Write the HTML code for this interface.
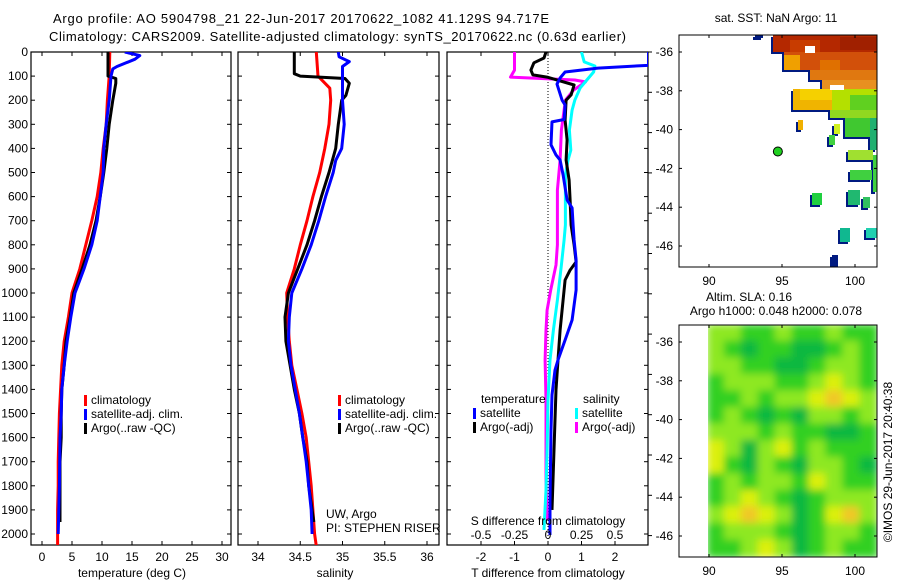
<!DOCTYPE html>
<html><head><meta charset="utf-8"><style>
html,body{margin:0;padding:0;background:#fff;}
svg{display:block;font-family:"Liberation Sans",sans-serif;}
text{font-size:12px;fill:#000;}
</style></head><body>
<svg id="fig" width="900" height="580" viewBox="0 0 900 580" xmlns="http://www.w3.org/2000/svg">
<defs><filter id="blur" x="0" y="0" width="100%" height="100%"><feGaussianBlur stdDeviation="4"/></filter>
<clipPath id="c1"><rect x="31" y="52" width="200" height="493"/></clipPath>
<clipPath id="c2"><rect x="238" y="52" width="201" height="493"/></clipPath>
<clipPath id="c3"><rect x="447" y="52" width="201" height="493"/></clipPath>
<clipPath id="cm1"><rect x="679" y="35" width="198" height="232"/></clipPath>
<clipPath id="cm2"><rect x="708" y="325" width="169" height="232"/></clipPath>
</defs>
<text x="53" y="23" style="font-size:13px" textLength="496">Argo profile: AO 5904798_21 22-Jun-2017 20170622_1082 41.129S 94.717E</text>
<text x="49" y="41" style="font-size:13px" textLength="577">Climatology: CARS2009. Satellite-adjusted climatology: synTS_20170622.nc (0.63d earlier)</text>
<g id="g1"></g>
<g id="g2"></g>
<g id="g3"></g>
<g id="m1"></g>
<g id="m2"></g>
</svg>
<script>
// ---- data ----
const depthTicks=[0,100,200,300,400,500,600,700,800,900,1000,1100,1200,1300,1400,1500,1600,1700,1800,1900,2000];
const tempTicks=[0,5,10,15,20,25,30];
const salTicks=[34,34.5,35,35.5,36];
const tdTicks=[-2,-1,0,1,2];
const sdTicks=[-0.5,-0.25,0,0.25,0.5];
const sdTickLabels=["-0.5","-0.25","0","0.25","0.5"];

const tClimDepth=[0,100,200,300,400,500,600,700,800,900,1000,1100,1200,1300,1400,1500,1600,1700,1800,1900,2000,2050];
const tClim=[11.3,11.2,10.9,10.7,10.2,9.8,9.2,8.3,7.3,6.3,5.0,4.4,3.7,3.3,3.1,2.9,2.8,2.7,2.7,2.6,2.6,2.6];
const tSatDepth=[0,15,30,60,70,100,200,300,400,500,600,700,800,900,1000,1100,1200,1300,1400,1500,1600,1800,2000];
const tSat=[13.8,16.3,15.5,12.5,11.8,11.5,11.2,10.7,10.3,10.2,9.7,9.2,8.3,7.0,5.5,4.8,4.2,3.7,3.3,3.2,3.0,2.9,2.7];
const tArgoDepth=[0,100,110,130,200,300,400,500,600,700,800,900,1000,1100,1200,1300,1400,1500,1600,1700,1900,1950];
const tArgo=[11.0,11.0,12.3,12.3,11.8,11.2,10.8,10.3,9.7,9.0,8.0,6.7,5.3,4.7,4.0,3.7,3.3,3.2,3.2,3.0,3.0,3.0];

const sClimDepth=[0,100,150,200,300,400,500,600,700,800,900,1000,1100,1200,1300,1400,1500,1600,1700,1800,1900,2000,2050];
const sClim=[34.69,34.71,34.85,34.86,34.84,34.79,34.73,34.65,34.58,34.50,34.43,34.34,34.35,34.37,34.40,34.46,34.52,34.57,34.60,34.63,34.65,34.67,34.69];
const sSatDepth=[0,20,40,60,100,200,300,400,450,500,600,700,800,900,1000,1100,1200,1300,1400,1500,1600,1700,1800,1900,2000];
const sSat=[34.95,34.96,35.08,35.0,35.0,35.0,35.02,34.99,34.92,34.89,34.80,34.72,34.63,34.52,34.40,34.37,34.36,34.39,34.44,34.49,34.53,34.57,34.60,34.63,34.64];
const sArgoDepth=[0,90,100,110,130,180,200,300,400,500,600,700,800,900,1000,1100,1200,1300,1400,1500,1600,1700,1800,1900,1950];
const sArgo=[34.43,34.43,34.5,35.03,35.08,35.04,34.99,34.95,34.92,34.84,34.75,34.67,34.58,34.47,34.36,34.32,34.33,34.38,34.43,34.49,34.53,34.58,34.60,34.64,34.66];

const dTSatDepth=[0,55,67,83,108,133,200,220,280,290,385,427,448,510,614,647,718,780,863,988,1112,1195,1278,1320,1423,1568,1859,2004];
const dTSat=[3.0,3.0,1.49,0.51,0.36,0.27,0.42,0.51,0.48,0.12,0.09,0.24,0.36,0.45,0.57,0.72,0.75,0.78,0.84,0.84,0.72,0.51,0.30,0.21,0.12,0.09,0.06,0.06];
const dTArgoDepth=[0,25,45,75,95,104,137,178,200,282,365,448,531,614,718,800,871,905,946,1029,1154,1278,1402,1527,1776,1900];
const dTArgo=[-0.06,-0.12,-0.42,-0.51,-0.45,-0.03,0.78,0.69,0.54,0.51,0.57,0.54,0.63,0.66,0.69,0.78,0.84,0.66,0.51,0.45,0.36,0.30,0.24,0.21,0.15,0.12];
const dSSatDepth=[0,41,58,83,149,200,241,324,407,448,510,614,718,780,884,1029,1154,1278,1444,1651,1817,1983];
const dSSat=[0.25,0.27,0.35,0.34,0.24,0.20,0.18,0.16,0.17,0.15,0.13,0.13,0.13,0.12,0.10,0.07,0.04,0.015,0,-0.007,-0.015,-0.03];
const dSArgoDepth=[0,75,104,116,124,158,200,241,324,448,573,718,800,884,988,1071,1154,1278,1444,1776,1942];
const dSArgo=[-0.25,-0.25,-0.28,0.20,0.28,0.19,0.13,0.12,0.10,0.09,0.07,0.07,0.07,0.06,0.02,-0.007,-0.015,-0.022,-0.015,-0.015,-0.007];

const lonTicks=[90,95,100];
const latTicks=[-36,-38,-40,-42,-44,-46];
const argoLon=94.717, argoLat=-41.129;
const slaGrid=[
[2,2,1,1,2,1,1,2,1,1],[2,1,0,1,1,0,0,1,2,1],[2,2,1,1,0,0,1,2,2,1],[1,2,2,2,1,1,2,3,2,1],
[1,1,2,1,2,2,3,4,3,2],[1,2,1,0,1,0,2,2,1,2],[2,2,2,1,2,1,1,0,0,1],[3,2,0,2,3,1,2,1,1,1],
[3,1,0,2,1,0,2,2,1,0],[1,2,1,2,2,1,3,2,1,1],[1,2,3,2,1,0,1,2,2,2],[2,3,4,3,2,0,1,3,4,2],
[1,2,2,2,1,0,1,2,2,1],[1,1,2,3,2,0,1,2,1,1]];

// ---- helpers ----
const NS="http://www.w3.org/2000/svg";
function mk(tag,attrs,parent,txt){const e=document.createElementNS(NS,tag);for(const k in attrs)e.setAttribute(k,attrs[k]);if(txt!==undefined)e.textContent=txt;parent.appendChild(e);return e;}
const yD=d=>52+d*0.241;
const xT=t=>42+t*6.0;
const xS=s=>258+(s-34)*84.5;
const xDT=v=>548+v*33.5;
const xDS=v=>548+v*134;
const xLon=l=>709+(l-90)*14.6;
const yLat1=l=>52+(-36-l)*19.4;
const yLat2=l=>342+(-36-l)*19.4;

function panelFrame(g,x0,x1,ticksX,fx,labels,showDepth,name){
  const r=mk('rect',{x:x0,y:52,width:x1-x0,height:493,fill:'none',stroke:'#000','stroke-width':1.2},g);
  
  depthTicks.forEach(d=>{
    mk('line',{x1:x0,x2:x0+4,y1:yD(d),y2:yD(d),stroke:'#000'},g);
    mk('line',{x1:x1,x2:x1-4,y1:yD(d),y2:yD(d),stroke:'#000'},g);
    if(showDepth){const t=mk('text',{x:28,y:yD(d)+4,'text-anchor':'end'},g,String(d));
      }
  });
  ticksX.forEach((v,i)=>{const x=fx(v);
    mk('line',{x1:x,x2:x,y1:52,y2:56,stroke:'#000'},g);
    mk('line',{x1:x,x2:x,y1:545,y2:541,stroke:'#000'},g);
    const t=mk('text',{x:x,y:561,'text-anchor':'middle'},g,labels?labels[i]:String(v));
    
  });
}
function line(g,xs,ds,fx,col,clip,name,w){
  const pts=xs.map((v,i)=>fx(v).toFixed(1)+','+yD(ds[i]).toFixed(1)).join(' ');
  const p=mk('polyline',{points:pts,fill:'none',stroke:col,'stroke-width':w||3,'clip-path':'url(#'+clip+')','stroke-linejoin':'round'},g);
  
}
function legend(g,x,y,items){
  items.forEach((it,i)=>{
    mk('rect',{x:x,y:y+i*14-9,width:3,height:11,fill:it[0]},g);
    const t=mk('text',{x:x+7,y:y+i*14},g,it[1]);
    
  });
}
// ---- panel 1 ----
const g1=document.getElementById('g1');
panelFrame(g1,31,231,tempTicks,xT,null,true,'temperature');
line(g1,tClim,tClimDepth,xT,'#f00','c1','temp-climatology-line');
line(g1,tArgo,tArgoDepth,xT,'#000','c1','temp-argo-line');
line(g1,tSat,tSatDepth,xT,'#00f','c1','temp-satellite-line');
legend(g1,84,404,[['#f00','climatology'],['#00f','satellite-adj. clim.'],['#000','Argo(..raw -QC)']]);
let t=mk('text',{x:132,y:577,'text-anchor':'middle'},g1,'temperature (deg C)');

// ---- panel 2 ----
const g2=document.getElementById('g2');
panelFrame(g2,238,439,salTicks,xS,null,false,'salinity');
line(g2,sClim,sClimDepth,xS,'#f00','c2','sal-climatology-line');
line(g2,sArgo,sArgoDepth,xS,'#000','c2','sal-argo-line');
line(g2,sSat,sSatDepth,xS,'#00f','c2','sal-satellite-line');
legend(g2,338,404,[['#f00','climatology'],['#00f','satellite-adj. clim.'],['#000','Argo(..raw -QC)']]);
t=mk('text',{x:326,y:518},g2,'UW, Argo');
t=mk('text',{x:326,y:532},g2,'PI: STEPHEN RISER');
t=mk('text',{x:335,y:577,'text-anchor':'middle'},g2,'salinity');
// ---- panel 3 ----
const g3=document.getElementById('g3');
panelFrame(g3,447,648,tdTicks,xDT,null,false,'difference');
mk('line',{x1:548,x2:548,y1:52,y2:545,stroke:'#000','stroke-dasharray':'1,2'},g3);
line(g3,dSArgo,dSArgoDepth,xDS,'#f0f','c3','sal-diff-argo-line');
line(g3,dSSat,dSSatDepth,xDS,'#0ff','c3','sal-diff-satellite-line');
line(g3,dTArgo,dTArgoDepth,xDT,'#000','c3','temp-diff-argo-line');
line(g3,dTSat,dTSatDepth,xDT,'#00f','c3','temp-diff-satellite-line');
t=mk('text',{x:481,y:403},g3,'temperature');
t=mk('text',{x:583,y:403},g3,'salinity');
legend(g3,473,417,[['#00f','satellite'],['#000','Argo(-adj)']]);
legend(g3,575,417,[['#0ff','satellite'],['#f0f','Argo(-adj)']]);
t=mk('text',{x:548,y:525,'text-anchor':'middle'},g3,'S difference from climatology');
sdTicks.forEach((v,i)=>{const tt=mk('text',{x:xDS(v),y:539,'text-anchor':'middle'},g3,sdTickLabels[i]);
  });
t=mk('text',{x:548,y:577,'text-anchor':'middle'},g3,'T difference from climatology');
for(let k=0;k<13;k++)mk('line',{x1:648,x2:652,y1:52+k*40.3,y2:52+k*40.3,stroke:'#000'},g3);
// ---- map 1 ----
const m1=document.getElementById('m1');
const mg=mk('g',{'clip-path':'url(#cm1)'},m1);
const blocks=[
[755,35,763,38,'#001a80'],
[773,35,877,52,'#b42800'],[790,40,820,52,'#c83c00'],[840,37,877,50,'#a02000'],
[784,52,877,70,'#d2500a'],[784,55,800,70,'#f0a000'],[820,60,840,70,'#e07000'],
[810,70,877,80,'#e07810'],[822,80,877,90,'#e89020'],
[793,89,832,110,'#f0b400'],[800,89,832,100,'#f5d000'],[832,89,877,110,'#b4e000'],[850,95,877,110,'#60d020'],
[830,110,877,118,'#90d820'],[845,118,877,137,'#40c830'],[870,118,877,150,'#20b070'],
[798,120,803,130,'#f0b000'],[834,124,840,134,'#d0f020'],[829,135,835,145,'#40d040'],
[848,150,873,160,'#a0e030'],[850,170,872,180,'#40d040'],[873,155,877,192,'#40d040'],
[812,193,822,205,'#20d040'],[848,190,860,205,'#20b870'],[863,197,870,208,'#30c060'],
[840,228,850,242,'#10b890'],[866,228,877,238,'#20d0b0'],[832,255,838,267,'#001a80']];
blocks.forEach(b=>{mk('rect',{x:b[0]-2,y:b[1]+2,width:b[2]-b[0],height:b[3]-b[1],fill:'#001a80'},mg);});
blocks.forEach(b=>{mk('rect',{x:b[0],y:b[1],width:b[2]-b[0],height:b[3]-b[1],fill:b[4]},mg);});
mk('rect',{x:805,y:46,width:10,height:7,fill:'#fff'},mg);mk('rect',{x:830,y:85,width:14,height:5,fill:'#fff'},mg);
let dot=mk('circle',{cx:xLon(argoLon),cy:yLat1(argoLat),r:4.5,fill:'#20d020',stroke:'#000','stroke-width':1},m1);

function mapFrame(g,y0,yl,name){
  const r=mk('rect',{x:679,y:y0,width:198,height:232,fill:'none',stroke:'#000'},g);
  
  lonTicks.forEach(v=>{mk('line',{x1:xLon(v),x2:xLon(v),y1:y0,y2:y0+3,stroke:'#000'},g);
    mk('line',{x1:xLon(v),x2:xLon(v),y1:y0+232,y2:y0+229,stroke:'#000'},g);
    const tt=mk('text',{x:xLon(v),y:y0+250,'text-anchor':'middle'},g,String(v));
    });
  latTicks.forEach(v=>{mk('line',{x1:679,x2:682,y1:yl(v),y2:yl(v),stroke:'#000'},g);
    mk('line',{x1:877,x2:874,y1:yl(v),y2:yl(v),stroke:'#000'},g);
    const tt=mk('text',{x:673,y:yl(v)+4,'text-anchor':'end'},g,String(v));
    });
}
mapFrame(m1,35,yLat1,'sst-map');
t=mk('text',{x:776,y:22,'text-anchor':'middle'},m1,'sat. SST: NaN Argo: 11');
// ---- map 2 ----
const m2=document.getElementById('m2');
const slaCols=['#10b840','#30d020','#8ee820','#dcf010','#f0c828'];
const gg=mk('g',{'clip-path':'url(#cm2)'},m2);
const gb=mk('g',{filter:'url(#blur)'},gg);
const cw=169/10, ch=232/14;
slaGrid.forEach((row,r)=>row.forEach((v,c)=>{
  const cell=mk('rect',{x:708+c*cw-1,y:325+r*ch-1,width:cw+2,height:ch+2,fill:slaCols[v]},gb);
  
}));
mapFrame(m2,325,yLat2,'sla-map');
t=mk('text',{x:749,y:301,'text-anchor':'middle'},m2,'Altim. SLA: 0.16');
t=mk('text',{x:776,y:315,'text-anchor':'middle'},m2,'Argo h1000: 0.048 h2000: 0.078');
t=mk('text',{x:0,y:0,'text-anchor':'middle',transform:'translate(892,462) rotate(-90)'},m2,'©IMOS 29-Jun-2017 20:40:38');

</script>
</body></html>
